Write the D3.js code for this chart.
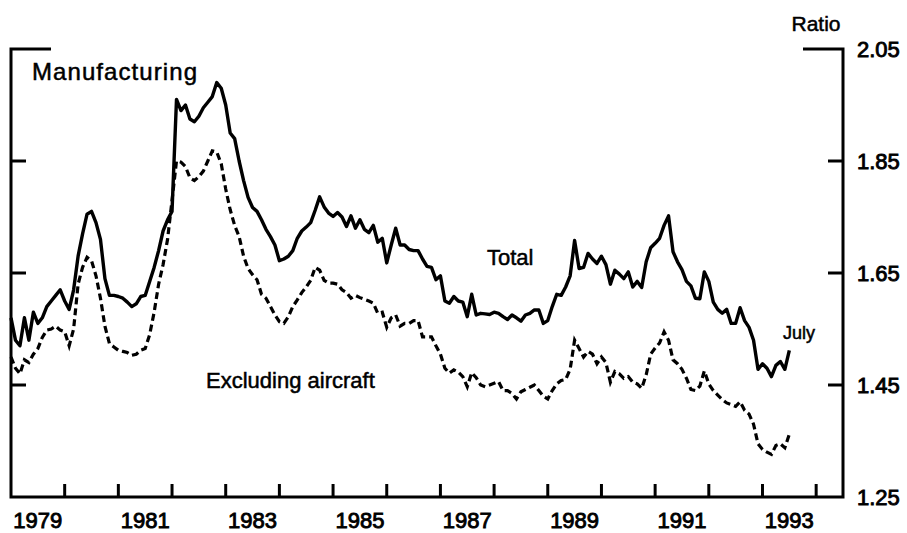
<!DOCTYPE html>
<html>
<head>
<meta charset="utf-8">
<script src="https://cdn.jsdelivr.net/npm/d3@7"></script>
<style>
  body { margin: 0; background: #fff; }
  text { font-family: "Liberation Sans", Arial, Helvetica, sans-serif; fill: #000; stroke: #000; stroke-width: 0.5px; }
  text.tick { stroke-width: 0.9px; }
</style>
</head>
<body>
<svg id="chart" width="907" height="533"></svg>
<script>
// monthly ratio, Jan 1979 .. Jul 1993
const startYear = 1979;
const total = [
  1.57, 1.53, 1.52, 1.57, 1.53, 1.58, 1.56, 1.57, 1.59, 1.60, 1.61, 1.62,
  1.60, 1.585, 1.62, 1.68, 1.72, 1.755, 1.76, 1.74, 1.71, 1.64, 1.61, 1.61,
  1.608, 1.605, 1.598, 1.59, 1.595, 1.608, 1.61, 1.635, 1.66, 1.69, 1.725, 1.745,
  1.76, 1.96, 1.94, 1.95, 1.925, 1.92, 1.93, 1.945, 1.955, 1.965, 1.99, 1.98,
  1.95, 1.90, 1.89, 1.85, 1.815, 1.785, 1.767, 1.76, 1.745, 1.728, 1.715, 1.70,
  1.672, 1.675, 1.68, 1.69, 1.712, 1.725, 1.732, 1.74, 1.762, 1.786, 1.768, 1.757,
  1.751, 1.758, 1.75, 1.733, 1.752, 1.73, 1.745, 1.728, 1.722, 1.735, 1.705, 1.712,
  1.668, 1.70, 1.73, 1.70, 1.70, 1.692, 1.69, 1.69, 1.675, 1.662, 1.66, 1.638,
  1.645, 1.60, 1.596, 1.608, 1.60, 1.598, 1.572, 1.612, 1.575, 1.578, 1.577, 1.576,
  1.58, 1.578, 1.572, 1.567, 1.575, 1.57, 1.564, 1.575, 1.578, 1.584, 1.584, 1.56,
  1.565, 1.59, 1.612, 1.61, 1.625, 1.645, 1.708, 1.658, 1.66, 1.685, 1.675, 1.667,
  1.68, 1.665, 1.63, 1.655, 1.648, 1.64, 1.652, 1.625, 1.635, 1.624, 1.67, 1.695,
  1.703, 1.712, 1.735, 1.752, 1.688, 1.67, 1.656, 1.635, 1.627, 1.605, 1.604, 1.652,
  1.635, 1.598, 1.585, 1.578, 1.585, 1.56, 1.56, 1.588, 1.565, 1.553, 1.53, 1.478,
  1.488, 1.48, 1.465, 1.485, 1.492, 1.478, 1.512
];
const exAircraft = [
  1.50, 1.48, 1.47, 1.495, 1.49, 1.505, 1.515, 1.535, 1.548, 1.55, 1.555, 1.548,
  1.545, 1.52, 1.55, 1.63, 1.66, 1.678, 1.672, 1.645, 1.605, 1.555, 1.524, 1.518,
  1.512, 1.51, 1.508, 1.503, 1.505, 1.512, 1.515, 1.54, 1.58, 1.63, 1.665, 1.71,
  1.78, 1.85, 1.848, 1.84, 1.82, 1.815, 1.822, 1.832, 1.85, 1.868, 1.866, 1.845,
  1.80, 1.763, 1.735, 1.715, 1.68, 1.658, 1.647, 1.638, 1.612, 1.605, 1.59, 1.575,
  1.563, 1.56, 1.572, 1.59, 1.602, 1.615, 1.625, 1.637, 1.66, 1.655, 1.637, 1.632,
  1.632, 1.63, 1.62, 1.615, 1.605, 1.61, 1.606, 1.603, 1.60, 1.596, 1.578, 1.58,
  1.553, 1.57, 1.575, 1.555, 1.56, 1.56, 1.565, 1.565, 1.536, 1.536, 1.536, 1.52,
  1.505, 1.48, 1.471, 1.477, 1.473, 1.465, 1.447, 1.472, 1.463, 1.45, 1.447, 1.45,
  1.453, 1.456, 1.44, 1.44, 1.435, 1.425, 1.438, 1.442, 1.446, 1.45, 1.44, 1.43,
  1.425, 1.44, 1.452, 1.458, 1.46, 1.478, 1.53, 1.515, 1.50, 1.51, 1.505, 1.488,
  1.50, 1.49, 1.455, 1.474, 1.47, 1.462, 1.465, 1.455, 1.452, 1.444, 1.468, 1.505,
  1.516, 1.525, 1.545, 1.53, 1.495, 1.488, 1.478, 1.462, 1.442, 1.44, 1.448, 1.475,
  1.452, 1.44, 1.432, 1.424, 1.418, 1.415, 1.412, 1.42, 1.405, 1.398, 1.38, 1.345,
  1.335, 1.33, 1.326, 1.342, 1.345, 1.338, 1.362
];
const yTicks = [1.25, 1.45, 1.65, 1.85, 2.05];
const yearTicks = d3.range(1980, 1995);
const yearLabels = [1979, 1981, 1983, 1985, 1987, 1989, 1991, 1993];

const svg = d3.select("#chart");
const plotL = 11, plotR = 843, plotT = 49, plotB = 497;

const x = d3.scaleLinear().domain([1979, 1994.5]).range([plotL, plotR]);
const y = d3.scaleLinear().domain([1.25, 2.05]).range([plotB, plotT]);

const line = d3.line()
    .x(function (d, i) { return x(startYear + i / 12); })
    .y(function (d) { return y(d); });

// frame
const axisW = 3;
svg.append("path")
    .attr("d", "M" + (plotL + 40) + "," + plotT + "H" + plotL + "V" + plotB + "H" + plotR + "V" + plotT + "H" + (plotR - 40))
    .attr("fill", "none")
    .attr("stroke", "#000")
    .attr("stroke-width", axisW)
    .attr("stroke-linejoin", "miter");

// y ticks on both sides, pointing in
yTicks.slice(1, -1).forEach(function (v) {
    svg.append("line").attr("x1", plotL).attr("x2", plotL + 15)
        .attr("y1", y(v)).attr("y2", y(v))
        .attr("stroke", "#000").attr("stroke-width", axisW);
    svg.append("line").attr("x1", plotR - 15).attr("x2", plotR)
        .attr("y1", y(v)).attr("y2", y(v))
        .attr("stroke", "#000").attr("stroke-width", axisW);
});

svg.selectAll(".ylab")
    .data(yTicks)
    .enter().append("text")
    .attr("class", "ylab tick")
    .attr("x", 857)
    .attr("y", function (d) { return y(d); })
    .attr("dy", "0.36em")
    .style("font-size", "22px")
    .text(function (d) { return d.toFixed(2); });

svg.append("text")
    .attr("x", 816).attr("y", 31)
    .attr("text-anchor", "middle")
    .style("font-size", "21px")
    .text("Ratio");

// x ticks, pointing up
svg.selectAll(".xtick")
    .data(yearTicks)
    .enter().append("line")
    .attr("x1", function (d) { return x(d); })
    .attr("x2", function (d) { return x(d); })
    .attr("y1", plotB)
    .attr("y2", plotB - 13)
    .attr("stroke", "#000")
    .attr("stroke-width", axisW);

svg.selectAll(".xlab")
    .data(yearLabels)
    .enter().append("text")
    .attr("class", "xlab tick")
    .attr("x", function (d) { return x(d + 0.5); })
    .attr("y", 528)
    .attr("text-anchor", "middle")
    .style("font-size", "22px")
    .text(function (d) { return d; });

// series
svg.append("path")
    .datum(exAircraft)
    .attr("d", line)
    .attr("fill", "none")
    .attr("stroke", "#000")
    .attr("stroke-width", 3.2)
    .attr("stroke-dasharray", "7,4");

svg.append("path")
    .datum(total)
    .attr("d", line)
    .attr("fill", "none")
    .attr("stroke", "#000")
    .attr("stroke-width", 3.4)
    .attr("stroke-linejoin", "round");

// labels
svg.append("text").attr("x", 32).attr("y", 80)
    .attr("textLength", 165).attr("lengthAdjust", "spacing")
    .style("font-size", "24px").text("Manufacturing");
svg.append("text").attr("x", 487).attr("y", 265)
    .style("font-size", "22px").text("Total");
svg.append("text").attr("x", 206).attr("y", 388)
    .style("font-size", "22px").text("Excluding aircraft");
svg.append("text").attr("x", 783).attr("y", 339)
    .style("font-size", "18px").text("July");
</script>
</body>
</html>
